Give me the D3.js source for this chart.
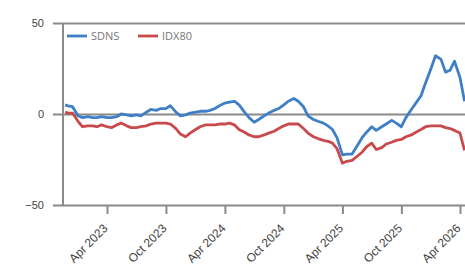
<!DOCTYPE html>
<html>
<head>
<meta charset="utf-8">
<script src="https://cdn.jsdelivr.net/npm/d3@7"></script>
<style>
  html, body { margin: 0; padding: 0; background: #fff; overflow: hidden; }
  svg { display: block; font-family: "Open Sans", "DejaVu Sans", sans-serif; }
  .tick text { fill: #444; }
</style>
</head>
<body>
<svg id="chart"></svg>
<script>
// semi-monthly observation dates
var dates = [
  "2022-11-22", "2022-12-01", "2022-12-15",
  "2023-01-01", "2023-01-15", "2023-02-01", "2023-02-15", "2023-03-01", "2023-03-15",
  "2023-04-01", "2023-04-15", "2023-05-01", "2023-05-15", "2023-06-01", "2023-06-15",
  "2023-07-01", "2023-07-15", "2023-08-01", "2023-08-15", "2023-09-01", "2023-09-15",
  "2023-10-01", "2023-10-15", "2023-11-01", "2023-11-15", "2023-12-01", "2023-12-15",
  "2024-01-01", "2024-01-15", "2024-02-01", "2024-02-15", "2024-03-01", "2024-03-15",
  "2024-04-01", "2024-04-15", "2024-05-01", "2024-05-15", "2024-06-01", "2024-06-15",
  "2024-07-01", "2024-07-15", "2024-08-01", "2024-08-15", "2024-09-01", "2024-09-15",
  "2024-10-01", "2024-10-15", "2024-11-01", "2024-11-15", "2024-12-01", "2024-12-15",
  "2025-01-01", "2025-01-15", "2025-02-01", "2025-02-15", "2025-03-01", "2025-03-15",
  "2025-04-01", "2025-04-15", "2025-05-01", "2025-05-15", "2025-06-01", "2025-06-15",
  "2025-07-01", "2025-07-15", "2025-08-01", "2025-08-15", "2025-09-01", "2025-09-15",
  "2025-10-01", "2025-10-15", "2025-11-01", "2025-11-15", "2025-12-01", "2025-12-15",
  "2026-01-01", "2026-01-15", "2026-02-01", "2026-02-15", "2026-03-01", "2026-03-15",
  "2026-04-01", "2026-04-15"
];

var sdns = [
  5, 4.5, 4,
  -1, -2, -1.5, -2, -2, -1.5,
  -2, -2, -1.5, 0, -0.5, -1,
  -0.5, -1, 1, 2.5, 2, 3,
  3, 4.5, 1, -1, -0.5, 0.5,
  1, 1.5, 1.5, 2, 3, 4.5,
  6, 6.5, 7, 5, 1, -2,
  -4.5, -3, -1, 0.5, 2, 3,
  5, 7, 8.5, 7, 4, -1,
  -3, -4, -5, -6.5, -8.5, -13,
  -22.5, -22, -22, -18, -13, -10,
  -7, -9, -7, -5.5, -3.5, -5,
  -7, -2, 2.5, 6, 10, 17,
  25, 32, 30, 23, 24, 29,
  20, 7
];

var idx80 = [
  1, 0.5, 0.5,
  -4, -7, -6.5, -6.5, -7, -6,
  -7, -7.5, -6, -5, -6.5, -7.5,
  -7.5, -7, -6.5, -5.5, -5, -5,
  -5, -5.5, -8, -11, -12.5, -10.5,
  -8.5, -7, -6, -6, -6, -5.5,
  -5.5, -5, -6, -8.5, -10, -11.5,
  -12.5, -12.5, -11.5, -10.5, -9.5, -8,
  -6.5, -5.5, -5.5, -5.5, -8, -10.5,
  -12.5, -13.5, -14.5, -15, -16, -19,
  -27, -26, -25.5, -23.5, -21, -18,
  -16, -19.5, -18.5, -16.5, -15.5, -14.5,
  -14, -12.5, -11.5, -10, -8.5, -7,
  -6.5, -6.5, -6.5, -7.5, -8, -9,
  -10.5, -20
];

var seriesNames = ["SDNS", "IDX80"];
var seriesColors = ["#3f7fc6", "#c94a4c"];
var yTicks = [50, 0, -50];
var xTickDates = ["2023-04-01", "2023-10-01", "2024-04-01", "2024-10-01", "2025-04-01", "2025-10-01", "2026-04-01"];

var screen = { width: 480, height: 269 };
var margins = { top: 23, left: 63 };

var parse = d3.timeParse("%Y-%m-%d");
var fmt = d3.timeFormat("%b %Y");

var svg = d3.select("#chart").attr("width", screen.width).attr("height", screen.height);

var xScale = d3.scaleTime()
  .domain([parse("2023-04-01"), parse("2026-04-01")])
  .range([107, 460]);

var yScale = d3.scaleLinear()
  .domain([50, -50])
  .range([margins.top, 205]);

// horizontal grid lines at 50 / 0 / -50
var yAxis = d3.axisLeft(yScale)
  .tickValues(yTicks)
  .tickSize(-(screen.width - 53))
  .tickPadding(8)
  .tickFormat(d3.format("d"));

var yG = svg.append("g")
  .attr("transform", "translate(53,0)")
  .call(yAxis);
yG.select(".domain").remove();
yG.selectAll(".tick line").attr("stroke", "#8a8a8a").attr("stroke-width", 2);
yG.selectAll(".tick text")
  .attr("x", -9)
  .style("font-size", "11px");

// vertical axis line
svg.append("line")
  .attr("x1", margins.left).attr("x2", margins.left)
  .attr("y1", yScale(50)).attr("y2", yScale(-50))
  .attr("stroke", "#8a8a8a").attr("stroke-width", 2);

// x axis ticks + rotated labels
var xAxis = d3.axisBottom(xScale)
  .tickValues(xTickDates.map(parse))
  .tickSize(9)
  .tickFormat(fmt);

var xG = svg.append("g")
  .attr("transform", "translate(0," + yScale(-50) + ")")
  .call(xAxis);
xG.select(".domain").remove();
xG.selectAll(".tick line").attr("stroke", "#8a8a8a").attr("stroke-width", 2);
xG.selectAll(".tick text")
  .style("font-size", "12px")
  .attr("text-anchor", "end")
  .attr("dy", null)
  .attr("y", 0)
  .attr("transform", "translate(1,24) rotate(-45)");

// lines
var parsedDates = dates.map(parse);
var allSeries = [sdns, idx80];

var line = d3.line()
  .x(function (d, i) { return xScale(parsedDates[i]); })
  .y(function (d) { return yScale(d); });

// draw IDX80 first so SDNS sits on top
[1, 0].forEach(function (k) {
  svg.append("path")
    .datum(allSeries[k])
    .attr("fill", "none")
    .attr("stroke", seriesColors[k])
    .attr("stroke-width", 2.8)
    .attr("stroke-linejoin", "round")
    .attr("d", line);
});

// legend
var legendX = [67, 138];
seriesNames.forEach(function (name, i) {
  var g = svg.append("g").attr("transform", "translate(" + legendX[i] + ",36)");
  g.append("line")
    .attr("x1", 0).attr("x2", 20)
    .attr("stroke", seriesColors[i]).attr("stroke-width", 2.8);
  g.append("text")
    .attr("x", 24).attr("y", 0).attr("dy", "0.35em")
    .style("font-size", "11px")
    .attr("fill", "#777")
    .text(name);
});
</script>
</body>
</html>
